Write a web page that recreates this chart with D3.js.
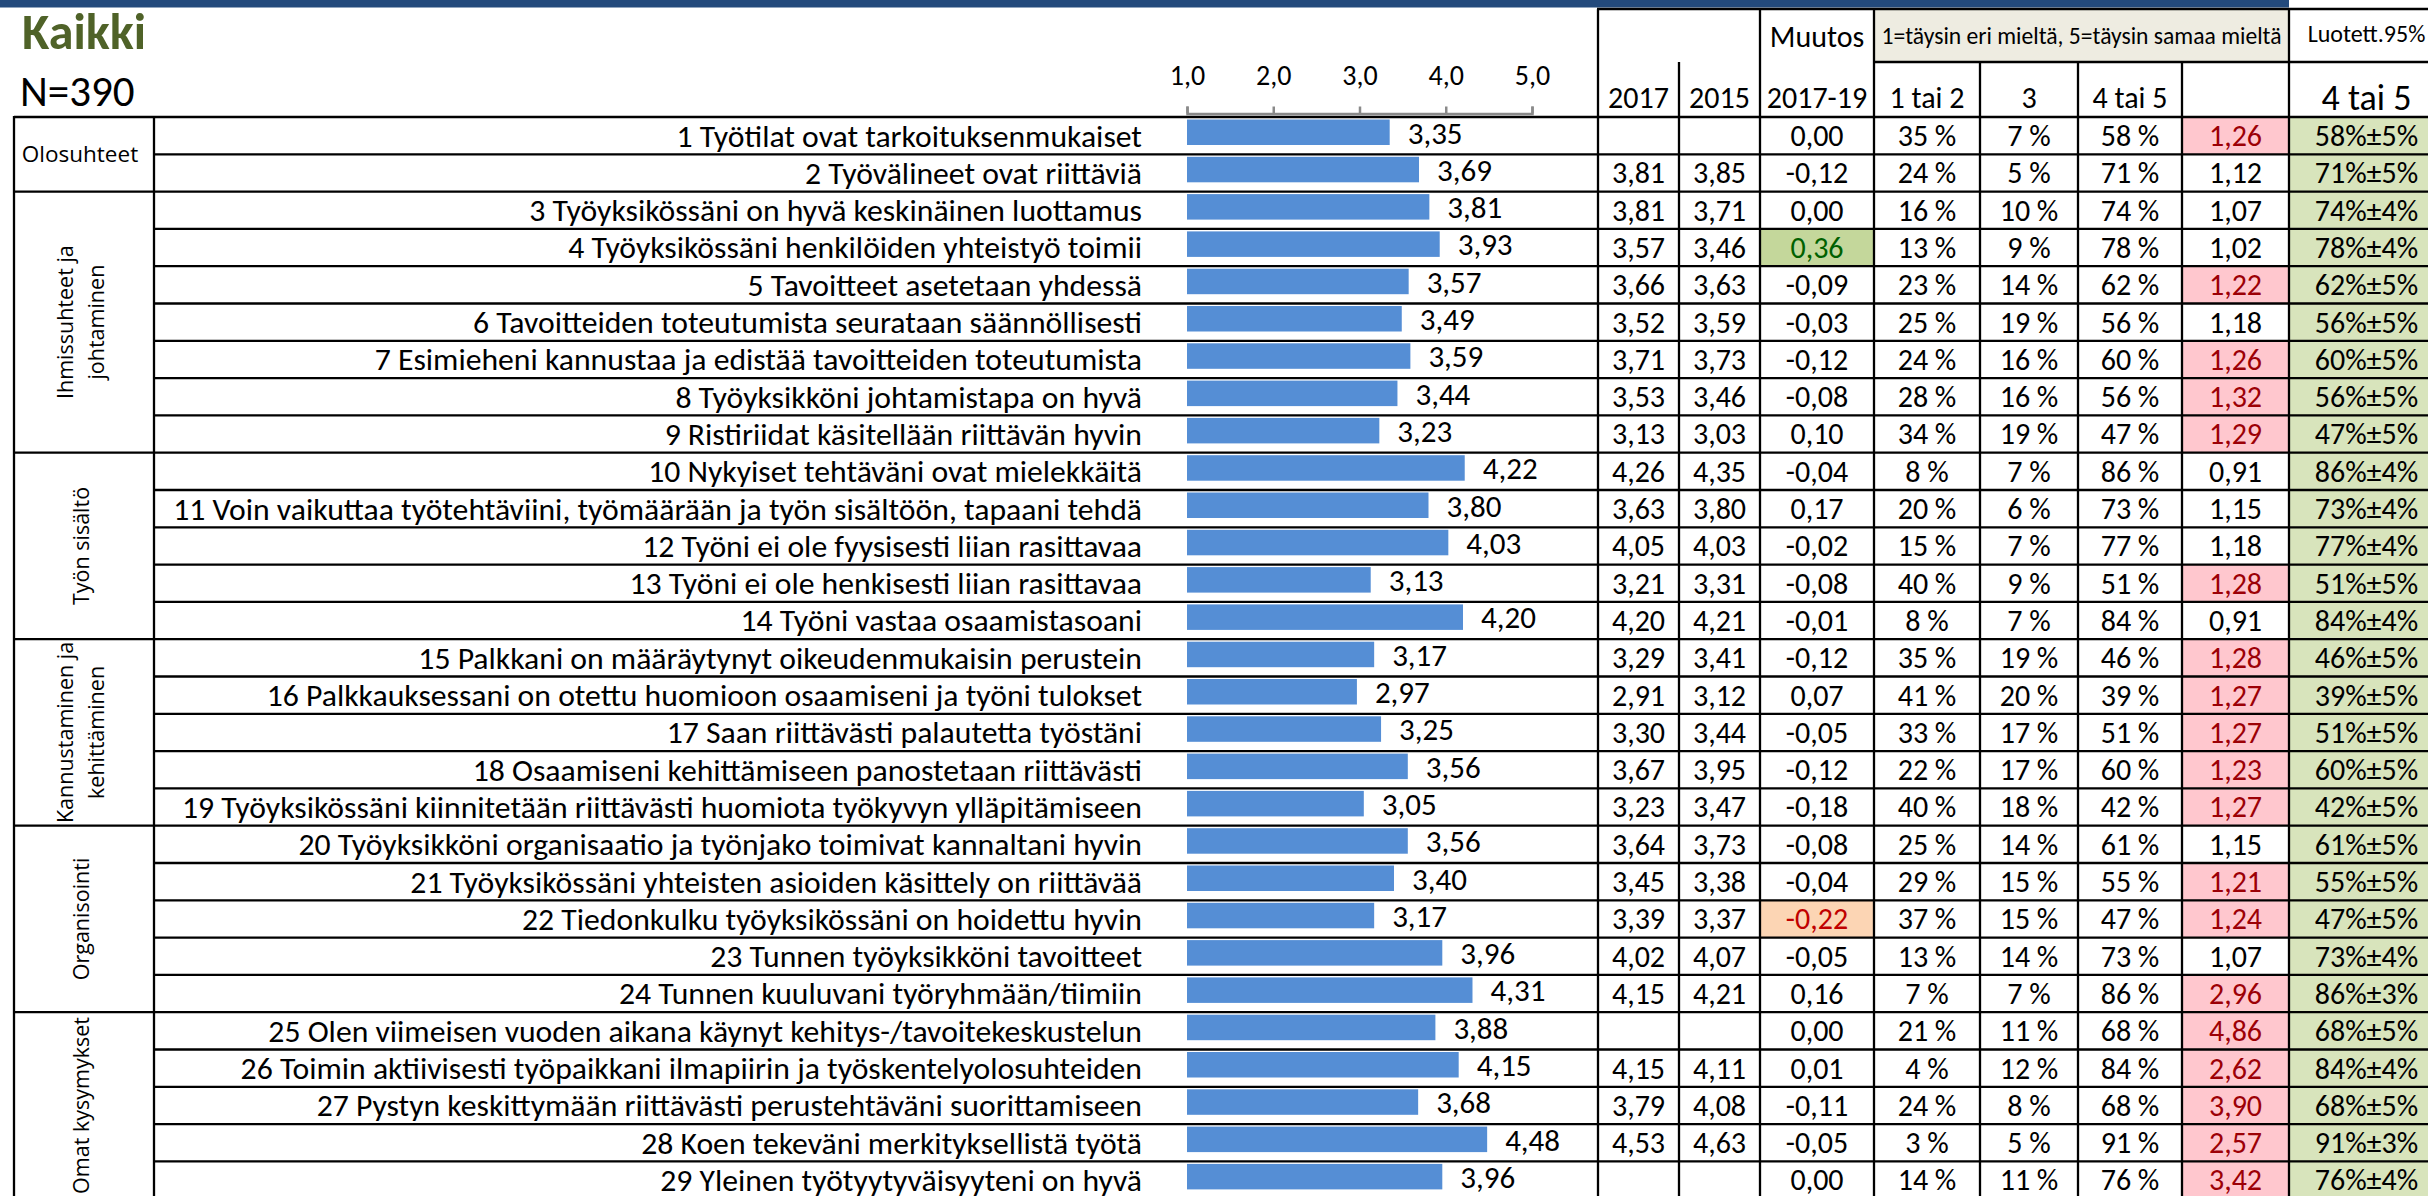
<!DOCTYPE html>
<html lang="fi">
<head>
<meta charset="utf-8">
<title>Kaikki</title>
<script src="https://cdn.jsdelivr.net/npm/d3@7"></script>
<style>
  body { margin: 0; background: #fff; }
</style>
</head>
<body>
<script>
// --- data ---
const labels = [
  "1 Työtilat ovat tarkoituksenmukaiset",
  "2 Työvälineet ovat riittäviä",
  "3 Työyksikössäni on hyvä keskinäinen luottamus",
  "4 Työyksikössäni henkilöiden yhteistyö toimii",
  "5 Tavoitteet asetetaan yhdessä",
  "6 Tavoitteiden toteutumista seurataan säännöllisesti",
  "7 Esimieheni kannustaa ja edistää tavoitteiden toteutumista",
  "8 Työyksikköni johtamistapa on hyvä",
  "9 Ristiriidat käsitellään riittävän hyvin",
  "10 Nykyiset tehtäväni ovat mielekkäitä",
  "11 Voin vaikuttaa työtehtäviini, työmäärään ja työn sisältöön, tapaani tehdä",
  "12 Työni ei ole fyysisesti liian rasittavaa",
  "13 Työni ei ole henkisesti liian rasittavaa",
  "14 Työni vastaa osaamistasoani",
  "15 Palkkani on määräytynyt oikeudenmukaisin perustein",
  "16 Palkkauksessani on otettu huomioon osaamiseni ja työni tulokset",
  "17 Saan riittävästi palautetta työstäni",
  "18 Osaamiseni kehittämiseen panostetaan riittävästi",
  "19 Työyksikössäni kiinnitetään riittävästi huomiota työkyvyn ylläpitämiseen",
  "20 Työyksikköni organisaatio ja työnjako toimivat kannaltani hyvin",
  "21 Työyksikössäni yhteisten asioiden käsittely on riittävää",
  "22 Tiedonkulku työyksikössäni on hoidettu hyvin",
  "23 Tunnen työyksikköni tavoitteet",
  "24 Tunnen kuuluvani työryhmään/tiimiin",
  "25 Olen viimeisen vuoden aikana käynyt kehitys-/tavoitekeskustelun",
  "26 Toimin aktiivisesti työpaikkani ilmapiirin ja työskentelyolosuhteiden",
  "27 Pystyn keskittymään riittävästi perustehtäväni suorittamiseen",
  "28 Koen tekeväni merkityksellistä työtä",
  "29 Yleinen työtyytyväisyyteni on hyvä"
];
const mean2019 = [3.35, 3.69, 3.81, 3.93, 3.57, 3.49, 3.59, 3.44, 3.23, 4.22, 3.80, 4.03, 3.13, 4.20,
  3.17, 2.97, 3.25, 3.56, 3.05, 3.56, 3.40, 3.17, 3.96, 4.31, 3.88, 4.15, 3.68, 4.48, 3.96];
const mean2017 = [null, 3.81, 3.81, 3.57, 3.66, 3.52, 3.71, 3.53, 3.13, 4.26, 3.63, 4.05, 3.21, 4.20,
  3.29, 2.91, 3.30, 3.67, 3.23, 3.64, 3.45, 3.39, 4.02, 4.15, null, 4.15, 3.79, 4.53, null];
const mean2015 = [null, 3.85, 3.71, 3.46, 3.63, 3.59, 3.73, 3.46, 3.03, 4.35, 3.80, 4.03, 3.31, 4.21,
  3.41, 3.12, 3.44, 3.95, 3.47, 3.73, 3.38, 3.37, 4.07, 4.21, null, 4.11, 4.08, 4.63, null];
const change = [0.00, -0.12, 0.00, 0.36, -0.09, -0.03, -0.12, -0.08, 0.10, -0.04, 0.17, -0.02, -0.08, -0.01,
  -0.12, 0.07, -0.05, -0.12, -0.18, -0.08, -0.04, -0.22, -0.05, 0.16, 0.00, 0.01, -0.11, -0.05, 0.00];
const pct12 = [35, 24, 16, 13, 23, 25, 24, 28, 34, 8, 20, 15, 40, 8, 35, 41, 33, 22, 40, 25, 29, 37, 13, 7, 21, 4, 24, 3, 14];
const pct3 = [7, 5, 10, 9, 14, 19, 16, 16, 19, 7, 6, 7, 9, 7, 19, 20, 17, 17, 18, 14, 15, 15, 14, 7, 11, 12, 8, 5, 11];
const pct45 = [58, 71, 74, 78, 62, 56, 60, 56, 47, 86, 73, 77, 51, 84, 46, 39, 51, 60, 42, 61, 55, 47, 73, 86, 68, 84, 68, 91, 76];
const stdev = [1.26, 1.12, 1.07, 1.02, 1.22, 1.18, 1.26, 1.32, 1.29, 0.91, 1.15, 1.18, 1.28, 0.91,
  1.28, 1.27, 1.27, 1.23, 1.27, 1.15, 1.21, 1.24, 1.07, 2.96, 4.86, 2.62, 3.90, 2.57, 3.42];
const margin95 = [5, 5, 4, 4, 5, 5, 5, 5, 5, 4, 4, 4, 5, 4, 5, 5, 5, 5, 5, 5, 5, 5, 4, 3, 5, 4, 5, 3, 4];
const groupNames = [["Olosuhteet"], ["Ihmissuhteet ja", "johtaminen"], ["Työn sisältö"],
  ["Kannustaminen ja", "kehittäminen"], ["Organisointi"], ["Omat kysymykset"]];
const groupSizes = [2, 7, 5, 5, 5, 5];
const axisTicks = [1, 2, 3, 4, 5];
const headerTop = ["", "", "Muutos"];
const headerBottom = ["2017", "2015", "2017-19", "1 tai 2", "3", "4 tai 5", "", "4 tai 5"];
const scaleNote = "1=täysin eri mieltä, 5=täysin samaa mieltä";
const confNote = "Luotett.95%";

// --- fonts: Calibri look-alike if there is one, else Lato a bit smaller ---
function hasFont(name) {
    const c = document.createElement("canvas").getContext("2d");
    const s = "abcdefghijKLMNOP 0123456789 äö";
    c.font = "40px monospace";
    const a = c.measureText(s).width;
    c.font = `40px "${name}", monospace`;
    return c.measureText(s).width !== a;
}
const calib = ["Carlito", "Calibri"].find(hasFont);
const FONT = calib ? `"${calib}", sans-serif` : "Lato, sans-serif";
const K = calib ? 1 : 0.88;
const fs = px => (px * K) + "px";
const GFONT = "'Open Sans', sans-serif";

const loc = d3.formatLocale({decimal: ",", thousands: " ", grouping: [3], currency: ["", "€"], minus: "-"});
const f2 = loc.format(".2f");
const f1 = loc.format(".1f");

// --- layout ---
const W = 2428, H = 1196;
const rowTop = 117, rowH = 37.3;
const colEdges = [1598, 1679, 1760, 1874, 1980, 2078, 2182, 2289, 2444];
const gLeft = 14, gRight = 154, labelRight = 1142;

const svg = d3.select("body").append("svg")
    .attr("width", W)
    .attr("height", H)
    .style("display", "block");

const y = d3.scaleBand()
    .domain(d3.range(labels.length))
    .range([rowTop, rowTop + rowH * labels.length]);
const x = d3.scaleLinear()
    .domain([1, 5])
    .range([1187, 1532]);
const bottom = rowTop + rowH * labels.length;

// blue strip along the top
svg.append("rect")
    .attr("x", 0).attr("y", 0)
    .attr("width", colEdges[7]).attr("height", 7.5)
    .attr("fill", "#234a7c");

svg.append("text")
    .attr("x", 22).attr("y", 49)
    .attr("font-family", FONT).attr("font-weight", "bold")
    .attr("font-size", fs(50))
    .attr("fill", "#4f6228")
    .text("Kaikki");

svg.append("text")
    .attr("x", 20).attr("y", 106)
    .attr("font-family", FONT)
    .attr("font-size", fs(43))
    .attr("fill", "#000")
    .text("N=390");

// --- table columns ---
const changeFill = v => v >= 0.2 ? ["#c4d79b", "#006100"] : v <= -0.2 ? ["#fcd5b4", "#c00000"] : null;
const stdFill = v => v > 1.2 ? ["#ffc7ce", "#9c0006"] : null;
const pct = v => `${v} %`;
const columns = [
    {vals: mean2017, fmt: v => v == null ? "" : f2(v)},
    {vals: mean2015, fmt: v => v == null ? "" : f2(v)},
    {vals: change, fmt: f2, fill: changeFill},
    {vals: pct12, fmt: pct},
    {vals: pct3, fmt: pct},
    {vals: pct45, fmt: pct},
    {vals: stdev, fmt: f2, fill: stdFill},
    {vals: pct45.map((p, i) => `${p}%±${margin95[i]}%`), fmt: v => v, fill: () => ["#d8e4bc", "#000"]}
];

// header fills
svg.append("rect")
    .attr("x", colEdges[3]).attr("y", 9)
    .attr("width", colEdges[7] - colEdges[3]).attr("height", 53)
    .attr("fill", "#eeece1");

// cell fills
const cells = svg.append("g");
columns.forEach((col, c) => {
    if (!col.fill) return;
    cells.selectAll(null)
        .data(col.vals.map((v, i) => ({v, i, f: col.fill(v)})).filter(d => d.f))
        .join("rect")
        .attr("x", colEdges[c])
        .attr("y", d => y(d.i))
        .attr("width", colEdges[c + 1] - colEdges[c])
        .attr("height", y.bandwidth())
        .attr("fill", d => d.f[0]);
});

// bars
svg.append("g")
    .selectAll("rect")
    .data(mean2019)
    .join("rect")
    .attr("x", x(1))
    .attr("y", (d, i) => y(i) + 2.5)
    .attr("width", d => x(d) - x(1))
    .attr("height", 25.5)
    .attr("fill", "#558ed5");

svg.append("g")
    .selectAll("text")
    .data(mean2019)
    .join("text")
    .attr("x", d => x(d) + 18)
    .attr("y", (d, i) => y(i) + 26.5)
    .attr("font-family", FONT)
    .attr("font-size", fs(31))
    .text(d => f2(d));

// axis on top of the bars
const axis = svg.append("g")
    .attr("transform", `translate(0, 113.5)`)
    .call(d3.axisTop(x)
        .tickValues(axisTicks)
        .tickFormat(f1)
        .tickSize(7)
        .tickPadding(22));
axis.selectAll("path, line")
    .attr("stroke", "#8a8a8a")
    .attr("stroke-width", 2.5);
axis.selectAll("text")
    .attr("font-family", FONT)
    .attr("font-size", fs(28))
    .attr("fill", "#000");

// question labels
svg.append("g")
    .selectAll("text")
    .data(labels)
    .join("text")
    .attr("x", labelRight)
    .attr("y", (d, i) => y(i) + 29.5)
    .attr("text-anchor", "end")
    .attr("font-family", FONT)
    .attr("font-size", fs(31.7))
    .text(d => d);

// table values
columns.forEach((col, c) => {
    const cx = (colEdges[c] + colEdges[c + 1]) / 2;
    svg.append("g")
        .selectAll("text")
        .data(col.vals)
        .join("text")
        .attr("x", cx)
        .attr("y", (d, i) => y(i) + 29)
        .attr("text-anchor", "middle")
        .attr("font-family", FONT)
        .attr("font-size", fs(30))
        .attr("fill", d => col.fill && col.fill(d) ? col.fill(d)[1] : "#000")
        .text(d => col.fmt(d));
});

// header texts
headerTop.forEach((t, c) => {
    svg.append("text")
        .attr("x", (colEdges[c] + colEdges[c + 1]) / 2)
        .attr("y", 47)
        .attr("text-anchor", "middle")
        .attr("font-family", FONT)
        .attr("font-size", fs(30))
        .text(t);
});
headerBottom.forEach((t, c) => {
    svg.append("text")
        .attr("x", (colEdges[c] + colEdges[c + 1]) / 2)
        .attr("y", c == 7 ? 110 : 108)
        .attr("text-anchor", "middle")
        .attr("font-family", FONT)
        .attr("font-size", fs(c == 7 ? 36 : 30))
        .text(t);
});
svg.append("text")
    .attr("x", (colEdges[3] + colEdges[7]) / 2)
    .attr("y", 44)
    .attr("text-anchor", "middle")
    .attr("font-family", FONT)
    .attr("font-size", fs(23.6))
    .text(scaleNote);
svg.append("text")
    .attr("x", (colEdges[7] + colEdges[8]) / 2)
    .attr("y", 42)
    .attr("text-anchor", "middle")
    .attr("font-family", FONT)
    .attr("font-size", fs(24))
    .text(confNote);

// group labels
let start = 0;
const gBounds = [];
groupSizes.forEach((n, g) => {
    const y0 = y(start), y1 = rowTop + rowH * (start + n);
    gBounds.push(y1);
    const cx = (gLeft + gRight) / 2, cy = (y0 + Math.min(y1, bottom)) / 2;
    const lines = groupNames[g];
    const t = svg.append("text")
        .attr("font-family", GFONT)
        .attr("font-size", g == 0 ? "22.5px" : "21.5px")
        .attr("text-anchor", "middle")
        .attr("fill", "#000");
    if (g == 0) {
        t.attr("x", cx - 4).attr("y", cy + 8).text(lines[0]);
    } else {
        t.attr("transform", `translate(${cx - 3}, ${cy}) rotate(-90)`);
        lines.forEach((l, k) => {
            t.append("tspan")
                .attr("x", 0)
                .attr("y", 7.5 + (k - (lines.length - 1) / 2) * 31)
                .text(l);
        });
    }
    start += n;
});

// grid lines
const grid = svg.append("g")
    .attr("stroke", "#000")
    .attr("stroke-width", 2.3);
grid.selectAll(".row")
    .data(d3.range(labels.length + 1))
    .join("line")
    .attr("x1", gRight).attr("x2", colEdges[8])
    .attr("y1", i => rowTop + rowH * i)
    .attr("y2", i => rowTop + rowH * i);
grid.selectAll(".grp")
    .data([rowTop, ...gBounds])
    .join("line")
    .attr("x1", gLeft).attr("x2", gRight)
    .attr("y1", d => d).attr("y2", d => d);
[gLeft, gRight].forEach(gx => {
    grid.append("line")
        .attr("x1", gx).attr("x2", gx)
        .attr("y1", rowTop - 1).attr("y2", bottom);
});
colEdges.forEach((cx, c) => {
    const top = [1, 4, 5, 6].includes(c) ? 62 : 9;
    grid.append("line")
        .attr("x1", cx).attr("x2", cx)
        .attr("y1", top).attr("y2", bottom);
});
grid.append("line")
    .attr("x1", colEdges[0] - 1).attr("x2", colEdges[8])
    .attr("y1", 9).attr("y2", 9);
grid.append("line")
    .attr("x1", colEdges[3]).attr("x2", colEdges[8])
    .attr("y1", 62).attr("y2", 62);
</script>
</body>
</html>
